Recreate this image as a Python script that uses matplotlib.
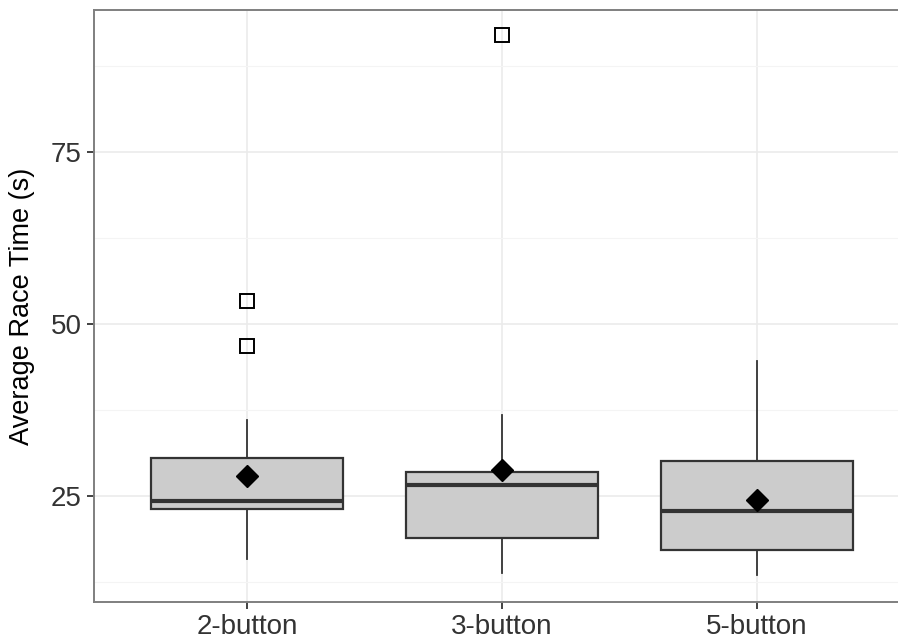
import matplotlib.pyplot as plt
from matplotlib.ticker import MultipleLocator

groups = ['2-button', '3-button', '5-button']
q1 = [23.1, 18.9, 17.2]
median = [24.3, 26.6, 22.8]
q3 = [30.5, 28.5, 30.1]
whislo = [15.8, 13.8, 13.5]
whishi = [36.0, 36.8, 44.6]
means = [27.9, 28.8, 24.4]
outliers = [[53.3, 46.8], [91.9], []]

plt.rcParams['font.family'] = ['Liberation Sans', 'DejaVu Sans']

stats = []
for i, name in enumerate(groups):
    stats.append({'label': name, 'q1': q1[i], 'med': median[i], 'q3': q3[i],
                  'whislo': whislo[i], 'whishi': whishi[i],
                  'fliers': outliers[i], 'mean': means[i]})

fig = plt.figure(figsize=(8.98, 6.42), dpi=100)
# panel runs past the right edge of the image, as in the reference crop
ax = fig.add_axes([94 / 898, 40 / 642, 816 / 898, 592 / 642])

positions = list(range(1, len(groups) + 1))
ax.bxp(stats, positions=positions, widths=0.75, patch_artist=True,
       showmeans=False, showcaps=False,
       boxprops=dict(facecolor='#CCCCCC', edgecolor='#333333', linewidth=1.6),
       medianprops=dict(color='#333333', linewidth=3.0),
       whiskerprops=dict(color='#333333', linewidth=1.3),
       flierprops=dict(marker='s', markerfacecolor='none',
                       markeredgecolor='black', markersize=9.5,
                       markeredgewidth=1.4),
       zorder=3)
ax.plot(positions, means, linestyle='none', marker='D', color='black',
        markersize=11.5, zorder=5)

ax.set_xlim(0.4, 3.6)
ax.set_ylim(9.6, 95.6)
ax.yaxis.set_major_locator(MultipleLocator(25))
ax.set_yticks([12.5, 37.5, 62.5, 87.5], minor=True)
ax.set_xticks(positions)
ax.set_xticklabels(groups)

ax.grid(True, which='major', color='#EBEBEB', linewidth=1.2, zorder=0)
ax.grid(True, which='minor', axis='y', color='#F4F4F4', linewidth=0.8, zorder=0)
ax.set_axisbelow(True)
for s in ax.spines.values():
    s.set_color('#7F7F7F')
    s.set_linewidth(1.4)

ax.tick_params(axis='both', which='major', length=5, width=1.3, color='#333333',
               labelsize=20, labelcolor='#333333')
ax.tick_params(axis='x', pad=4)
ax.tick_params(axis='y', pad=4)
ax.tick_params(which='minor', length=0)
ax.set_ylabel('Average Race Time (s)', fontsize=19.5, labelpad=11)

fig.savefig('out.png', dpi=100)
